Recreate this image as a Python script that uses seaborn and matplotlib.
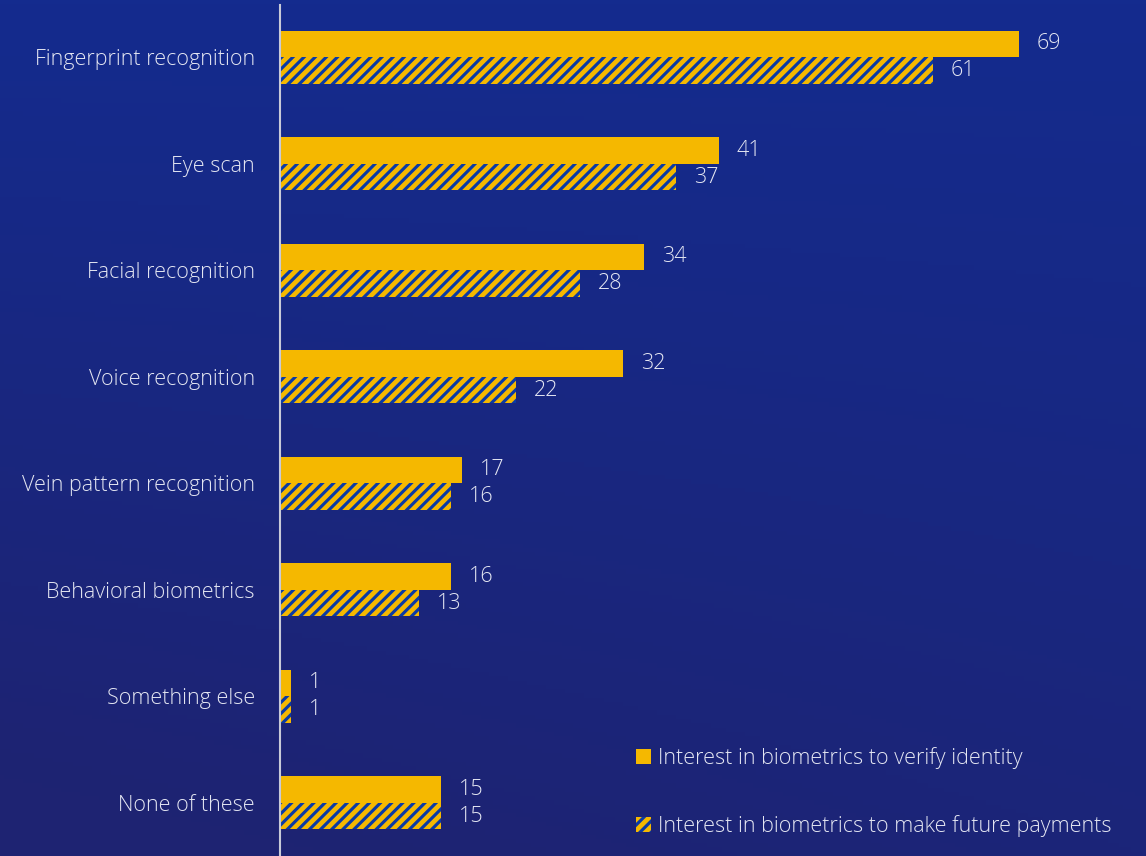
import numpy as np
import pandas as pd
import matplotlib
matplotlib.use("Agg")
import matplotlib.pyplot as plt
import seaborn as sns
from matplotlib.patches import Patch

categories = ["Fingerprint recognition", "Eye scan", "Facial recognition", "Voice recognition",
              "Vein pattern recognition", "Behavioral biometrics", "Something else", "None of these"]
verify_identity = [69, 41, 34, 32, 17, 16, 1, 15]
future_payments = [61, 37, 28, 22, 16, 13, 1, 15]
series_names = ["Interest in biometrics to verify identity",
                "Interest in biometrics to make future payments"]

YELLOW = "#F5B800"
BLUE_FACE = "#0A3AA6"
TEXT = "#E4E6F2"

df = pd.DataFrame({
    "category": categories * 2,
    "value": verify_identity + future_payments,
    "series": [series_names[0]] * len(categories) + [series_names[1]] * len(categories),
})

sns.set_theme(style="white")
plt.rcParams['font.family'] = ['Open Sans', 'DejaVu Sans']
plt.rcParams['font.weight'] = 'light'
plt.rcParams['hatch.linewidth'] = 3.4

fig = plt.figure(figsize=(11.46, 8.56), dpi=100)

# gradient background
bg = fig.add_axes([0, 0, 1, 1], zorder=0)
h, w = 200, 300
yy, xx = np.mgrid[0:1:h*1j, 0:1:w*1j]
top = np.array([0x14, 0x2B, 0x8E]) / 255
bot = np.array([0x1E, 0x23, 0x72]) / 255
t = np.clip(0.75 * yy + 0.35 * (1 - xx) * yy, 0, 1)[..., None]
img = top * (1 - t) + bot * t
bg.imshow(img, aspect="auto", extent=[0, 1, 0, 1], origin="upper")
bg.axis("off")

ax = fig.add_axes([280/1146, 0, 1 - 280/1146, 851/856], zorder=1)
ax.patch.set_alpha(0)

sns.barplot(data=df, y="category", x="value", hue="series", orient="h",
            palette=[YELLOW, BLUE_FACE], width=0.5, gap=0, ax=ax, legend=False,
            saturation=1)

for bar in ax.containers[0]:
    bar.set_facecolor(YELLOW)
    bar.set_edgecolor("none")
for bar in ax.containers[1]:
    bar.set_facecolor(BLUE_FACE)
    bar.set_edgecolor(YELLOW)
    bar.set_linewidth(0)
    bar.set_hatch("///")

for cont in ax.containers:
    ax.bar_label(cont, labels=[f"{v:g}" for v in cont.datavalues], padding=13,
                 color=TEXT, fontsize=15.5, fontweight="light")

ax.set_xlim(0, 80.9)
ax.set_ylim(7.5, -0.49)
ax.set_xlabel("")
ax.set_ylabel("")
ax.set_xticks([])
ax.tick_params(axis="y", length=0, pad=18, labelsize=15.5, labelcolor=TEXT)
for lbl in ax.get_yticklabels():
    lbl.set_fontweight("light")
for s in ["top", "right", "bottom"]:
    ax.spines[s].set_visible(False)
ax.spines["left"].set_color("#C8CAD8")
ax.spines["left"].set_linewidth(1.5)

handles = [Patch(facecolor=YELLOW, edgecolor="none"),
           Patch(facecolor=BLUE_FACE, edgecolor=YELLOW, linewidth=0, hatch="///")]
leg = fig.legend(handles, series_names, loc="lower left", bbox_to_anchor=(636/1146, 19/856),
                 frameon=False, prop={"size": 15.5, "weight": "light"}, labelcolor=TEXT,
                 handlelength=0.7, handleheight=0.7, handletextpad=0.3, labelspacing=2.14,
                 borderpad=0, borderaxespad=0)

fig.savefig("out.png", dpi=100)
